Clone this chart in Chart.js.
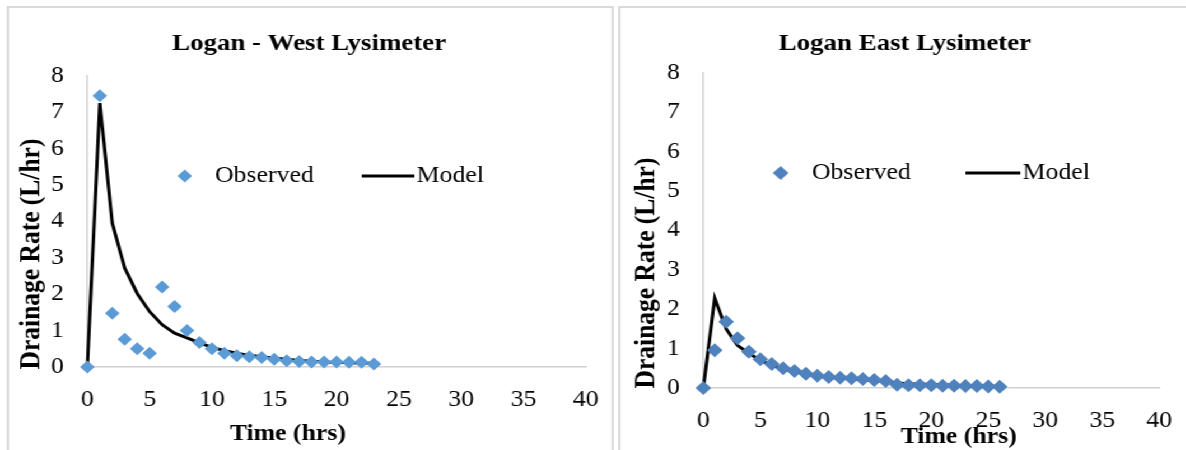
<!DOCTYPE html>
<html>
<head>
<meta charset="utf-8">
<script src="https://cdn.jsdelivr.net/npm/chart.js@4.4.1/dist/chart.umd.min.js"></script>
<style>
  html, body { margin: 0; background: #fff; overflow: hidden; }
  /* the original picture is a bit wider than tall text would give, so stretch it */
  #stage { position: absolute; left: 0; top: 0; width: 1059px; height: 450px; transform: scaleX(1.12); transform-origin: 0 0; }
  .panel { position: absolute; top: 6px; border: 2px solid #d9d9d9; background: #fff; height: 460px; }
  #westPanel { left: 6px; width: 538px; }
  #eastPanel { left: 552px; width: 508px; }
  .box { position: relative; height: 442px; }
  #westPanel .box { width: 538px; }
  #eastPanel .box { width: 508px; }
</style>
</head>
<body>
<div id="stage">
  <div class="panel" id="westPanel"><div class="box"><canvas id="westChart"></canvas></div></div>
  <div class="panel" id="eastPanel"><div class="box"><canvas id="eastChart"></canvas></div></div>
</div>

<script>
// ----------------------------
// Data
// ----------------------------
const westTime = [0, 1, 2, 3, 4, 5, 6, 7, 8, 9, 10, 11, 12, 13, 14, 15, 16, 17, 18, 19, 20, 21, 22, 23];
const westObserved = [0, 7.45, 1.48, 0.76, 0.5, 0.38, 2.2, 1.66, 1.0, 0.67, 0.5, 0.38, 0.31, 0.28, 0.26, 0.21, 0.17, 0.15, 0.14, 0.14, 0.14, 0.13, 0.13, 0.08];
const westModel = [0, 7.25, 3.95, 2.72, 2.02, 1.52, 1.16, 0.93, 0.8, 0.66, 0.54, 0.45, 0.38, 0.32, 0.28, 0.24, 0.21, 0.18, 0.16, 0.14, 0.13, 0.12, 0.11, 0.1];

const eastTime = [0, 1, 2, 3, 4, 5, 6, 7, 8, 9, 10, 11, 12, 13, 14, 15, 16, 17, 18, 19, 20, 21, 22, 23, 24, 25, 26];
const eastObserved = [0, 0.96, 1.68, 1.26, 0.92, 0.73, 0.61, 0.5, 0.43, 0.36, 0.31, 0.28, 0.26, 0.25, 0.23, 0.2, 0.18, 0.08, 0.07, 0.07, 0.07, 0.06, 0.06, 0.05, 0.05, 0.04, 0.03];
const eastModel = [0, 2.28, 1.5, 1.08, 0.88, 0.7, 0.58, 0.49, 0.42, 0.36, 0.32, 0.28, 0.25, 0.23, 0.21, 0.19, 0.17, 0.13, 0.11, 0.1, 0.09, 0.08, 0.07, 0.06, 0.05, 0.05, 0.04];

const seriesNames = ['Observed', 'Model'];
const xTitle = 'Time (hrs)';
const yTitle = 'Drainage Rate (L/hr)';

const SERIF = '"Liberation Serif", "Times New Roman", serif';

// ----------------------------
// Axis titles + legend drawn inside the plot like Excel does
// ----------------------------
const captions = {
  id: 'captions',
  afterDraw(chart, args, o) {
    const ctx = chart.ctx;
    ctx.save();
    ctx.fillStyle = '#000';
    ctx.textBaseline = 'middle';
    ctx.textAlign = 'center';

    ctx.font = 'bold 23px ' + SERIF;
    ctx.fillText(xTitle, o.xTitle[0], o.xTitle[1]);

    ctx.save();
    ctx.translate(o.yTitle[0], o.yTitle[1]);
    ctx.rotate(-Math.PI / 2);
    ctx.font = 'bold 25.5px ' + SERIF;
    ctx.fillText(yTitle, 0, 0);
    ctx.restore();

    // legend
    const ds = chart.data.datasets;
    ctx.textAlign = 'left';
    ctx.font = '23px ' + SERIF;
    ctx.fillStyle = ds[0].pointBackgroundColor;
    Chart.helpers.drawPoint(ctx, { pointStyle: 'rectRot', radius: o.marker, borderWidth: 0 }, o.legend.dot, o.legend.y);
    ctx.fillStyle = '#000';
    ctx.fillText(ds[0].label, o.legend.text1, o.legend.y);

    ctx.strokeStyle = ds[1].borderColor;
    ctx.lineWidth = ds[1].borderWidth;
    ctx.beginPath();
    ctx.moveTo(o.legend.line[0], o.legend.y);
    ctx.lineTo(o.legend.line[1], o.legend.y);
    ctx.stroke();
    ctx.fillText(ds[1].label, o.legend.text2, o.legend.y);
    ctx.restore();
  }
};

function pontos(xs, ys) {
  return xs.map((x, i) => ({ x: x, y: ys[i] }));
}

function criarGrafico(id, s) {
  new Chart(document.getElementById(id), {
    type: 'line',
    data: {
      datasets: [{
        label: seriesNames[0],
        data: pontos(s.time, s.observed),
        showLine: false,
        clip: false,
        pointStyle: 'rectRot',
        pointRadius: s.marker,
        pointBorderWidth: 0,
        pointBackgroundColor: s.color,
        pointBorderColor: s.color
      }, {
        label: seriesNames[1],
        data: pontos(s.time, s.model),
        clip: false,
        borderColor: '#000',
        borderWidth: 3,
        pointRadius: 0,
        tension: 0,
        fill: false
      }]
    },
    options: {
      responsive: true,
      maintainAspectRatio: false,
      animation: false,
      events: [],
      layout: { padding: { left: s.padLeft, top: 0, right: s.padRight, bottom: 0 } },
      plugins: {
        legend: { display: false },
        tooltip: { enabled: false },
        title: {
          display: true,
          text: s.title,
          color: '#000',
          font: { family: SERIF, size: 24, weight: 'bold' },
          padding: { top: 21, bottom: s.titleGap }
        },
        captions: s.captions
      },
      scales: {
        x: {
          type: 'linear',
          min: 0, max: 40,
          // invisible tick marks push the labels down without widening the side padding
          grid: { display: true, drawOnChartArea: false, drawTicks: true, tickLength: 19, tickColor: 'rgba(0,0,0,0)' },
          border: { display: true, color: '#d0d0d0', width: 1.5 },
          ticks: { stepSize: 5, padding: 0, color: '#000', font: { family: SERIF, size: 23 }, maxRotation: 0 },
          afterFit: (scale) => { scale.height = s.xHeight; }
        },
        y: {
          min: 0, max: 8,
          grid: { display: false },
          border: { display: true, color: '#d0d0d0', width: 1.5 },
          ticks: { stepSize: 1, padding: 13, color: '#000', font: { family: SERIF, size: 23 } },
          afterFit: (scale) => { scale.width = s.yWidth; }
        }
      }
    },
    plugins: [captions]
  });
}

criarGrafico('westChart', {
  title: 'Logan - West Lysimeter',
  time: westTime, observed: westObserved, model: westModel,
  color: '#5b9bd5', marker: 6.5,
  padLeft: 21, yWidth: 49, xHeight: 83, padRight: 23, titleGap: 18,
  captions: {
    marker: 6.5,
    xTitle: [249, 426],
    yTitle: [20, 246],
    legend: { y: 168, dot: 157, text1: 184, line: [315, 362], text2: 364 }
  }
});

criarGrafico('eastChart', {
  title: 'Logan East Lysimeter',
  time: eastTime, observed: eastObserved, model: eastModel,
  color: '#4f81bd', marker: 7,
  padLeft: 27, yWidth: 47, xHeight: 62, padRight: 27, titleGap: 15,
  captions: {
    marker: 7,
    xTitle: [302, 429],
    yTitle: [23, 265],
    legend: { y: 165, dot: 143, text1: 171, line: [308, 357], text2: 359 }
  }
});
</script>
</body>
</html>
